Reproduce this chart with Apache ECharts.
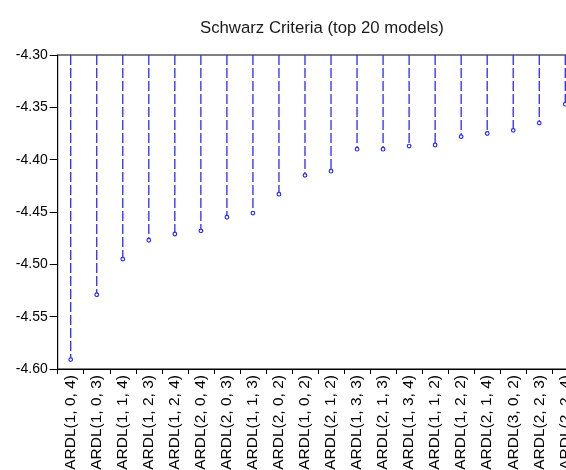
<!DOCTYPE html>
<html>
<head>
<meta charset="utf-8">
<script src="https://cdn.jsdelivr.net/npm/echarts@6/dist/echarts.min.js"></script>
<style>
html,body{margin:0;padding:0;background:#fff;}
#chart{width:566px;height:470px;}
</style>
</head>
<body>
<div id="chart"></div>
<script>
var titleText = 'Schwarz Criteria (top 20 models)';
var models = [
  'ARDL(1, 0, 4)', 'ARDL(1, 0, 3)', 'ARDL(1, 1, 4)', 'ARDL(1, 2, 3)', 'ARDL(1, 2, 4)',
  'ARDL(2, 0, 4)', 'ARDL(2, 0, 3)', 'ARDL(1, 1, 3)', 'ARDL(2, 0, 2)', 'ARDL(1, 0, 2)',
  'ARDL(2, 1, 2)', 'ARDL(1, 3, 3)', 'ARDL(2, 1, 3)', 'ARDL(1, 3, 4)', 'ARDL(1, 1, 2)',
  'ARDL(1, 2, 2)', 'ARDL(2, 1, 4)', 'ARDL(3, 0, 2)', 'ARDL(2, 2, 3)', 'ARDL(2, 2, 4)'
];
var schwarz = [
  -4.591, -4.529, -4.495, -4.477, -4.471,
  -4.468, -4.455, -4.451, -4.433, -4.415,
  -4.411, -4.390, -4.390, -4.387, -4.386,
  -4.378, -4.375, -4.372, -4.365, -4.347
];
var yMin = -4.60;
var yMax = -4.30;
var yStep = 0.05;

var FONT = "'Liberation Sans', Arial, sans-serif";
var LINE_COLOR = '#2a2aff';

var chart = echarts.init(document.getElementById('chart'), null, {renderer: 'canvas'});
chart.setOption({
  animation: false,
  backgroundColor: '#ffffff',
  title: {
    text: titleText,
    left: 195,
    top: 15,
    textStyle: {fontFamily: FONT, fontSize: 16.75, fontWeight: 'normal', color: '#1a1a1a'}
  },
  grid: {
    left: 57.7,
    top: 55,
    right: -12.3,
    bottom: 101,
    containLabel: false,
    outerBoundsMode: 'none',
    show: true,
    borderColor: '#000',
    borderWidth: 1,
    backgroundColor: 'transparent'
  },
  xAxis: {
    type: 'category',
    data: models,
    boundaryGap: true,
    axisLine: {show: true, lineStyle: {color: '#000', width: 1}},
    axisTick: {show: true, length: 5, alignWithLabel: false, lineStyle: {color: '#000'}},
    axisLabel: {
      interval: 0, rotate: 90, margin: 6,
      fontFamily: FONT, fontSize: 15.5, color: '#000'
    },
    splitLine: {show: false}
  },
  yAxis: {
    type: 'value',
    min: yMin,
    max: yMax,
    interval: yStep,
    axisLine: {show: true, lineStyle: {color: '#000', width: 1}},
    axisTick: {show: true, length: 8, lineStyle: {color: '#000'}},
    axisLabel: {
      margin: 10, fontFamily: FONT, fontSize: 14, color: '#000',
      formatter: function (v) { return v.toFixed(2); }
    },
    splitLine: {show: false}
  },
  series: [{
    type: 'custom',
    data: schwarz.map(function (v, i) { return [i, v]; }),
    clip: true,
    renderItem: function (params, api) {
      var idx = api.value(0);
      var val = api.value(1);
      var top = api.coord([idx, yMax]);
      var pt = api.coord([idx, val]);
      return {
        type: 'group',
        children: [
          {
            type: 'line',
            shape: {x1: top[0], y1: top[1], x2: pt[0], y2: pt[1]},
            style: {stroke: LINE_COLOR, lineWidth: 1.3, lineDash: [10, 3]}
          },
          {
            type: 'circle',
            shape: {cx: pt[0], cy: pt[1], r: 1.8},
            style: {fill: '#ffffff', stroke: LINE_COLOR, lineWidth: 1.2}
          }
        ]
      };
    }
  }]
});
</script>
</body>
</html>
